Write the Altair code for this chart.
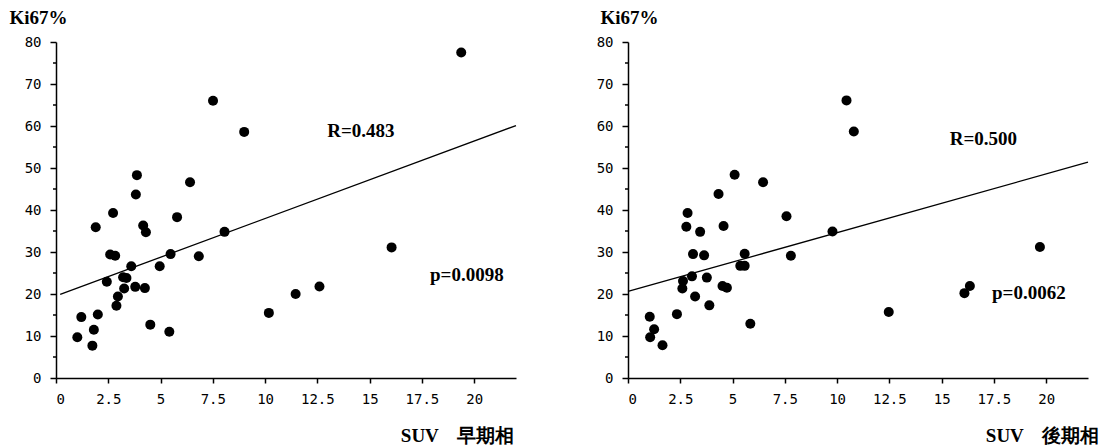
import altair as alt
import pandas as pd

# ---- data ----
early_suv = [1.02, 1.21, 1.81, 1.74, 2.0, 1.90, 2.43, 2.59, 2.83, 2.73, 2.89, 2.96, 3.21,
             3.37, 3.26, 3.60, 3.79, 4.25, 4.17, 4.30, 4.51, 4.96, 5.42, 5.48, 5.79, 6.83,
             8.06, 10.18, 11.46, 3.87, 3.82, 6.41, 7.51, 9.0, 12.6, 16.05, 19.38]
early_ki67 = [9.7, 14.5, 11.5, 7.7, 15.1, 35.9, 22.9, 29.4, 29.1, 39.3, 17.2, 19.4, 24.0,
              23.8, 21.3, 26.6, 21.7, 21.4, 36.3, 34.7, 12.7, 26.6, 11.0, 29.5, 38.3, 29.0,
              34.8, 15.5, 20.0, 48.3, 43.7, 46.6, 66.0, 58.6, 21.8, 31.1, 77.5]

late_suv = [1.04, 1.25, 1.06, 1.65, 2.34, 2.60, 2.63, 3.06, 3.21, 3.11, 3.64, 3.77, 3.89,
            2.79, 2.85, 3.45, 4.57, 4.52, 4.73, 5.37, 5.58, 5.58, 5.85, 7.58, 7.79, 9.78,
            4.33, 5.10, 6.46, 10.45, 10.80, 12.47, 16.09, 16.35, 19.70]
late_ki67 = [14.6, 11.6, 9.7, 7.8, 15.2, 21.3, 23.1, 24.2, 19.4, 29.5, 29.2, 23.9, 17.3,
             36.0, 39.3, 34.8, 36.2, 21.9, 21.5, 26.7, 26.7, 29.6, 12.9, 38.5, 29.1, 34.9,
             43.8, 48.4, 46.6, 66.1, 58.7, 15.7, 20.2, 21.9, 31.2]

early_fit_x = [0.2, 22.0]
early_fit_y = [19.9, 60.1]
late_fit_x = [0.0, 22.0]
late_fit_y = [20.6, 51.4]

early_notes = ["R=0.483", "p=0.0098"]
early_note_x = [14.58, 19.65]
early_note_y = [58.8, 24.6]
late_notes = ["R=0.500", "p=0.0062"]
late_note_x = [17.0, 19.17]
late_note_y = [56.9, 20.2]

x_ticks = [0, 2.5, 5, 7.5, 10, 12.5, 15, 17.5, 20]
y_ticks = [0, 10, 20, 30, 40, 50, 60, 70, 80]
y_minor_ticks = [5, 15, 25, 35, 45, 55, 65, 75]

y_title = "Ki67%"
x_title_early = "SUV\u3000早期相"
x_title_late = "SUV\u3000後期相"

LABEL_FONT = "DejaVu Sans Mono"
TITLE_FONT = "Liberation Serif"


def panel(suv, ki, fx, fy, notes, nx, ny, xtitle, ytitle_x, xtitle_x):
    pts = pd.DataFrame({"suv": suv, "ki67": ki})
    fit = pd.DataFrame({"suv": fx, "ki67": fy})
    ann = pd.DataFrame({"t": notes, "suv": nx, "ki67": ny})
    minor = pd.DataFrame({"ki67": y_minor_ticks})
    xs = alt.Scale(domain=[0, 22], nice=False, zero=False)
    ys = alt.Scale(domain=[0, 80], nice=False)

    x_axis = alt.Axis(values=x_ticks, format=".1~f", title=xtitle,
                      titleX=xtitle_x, titleY=63, titleAlign="right")
    y_axis = alt.Axis(values=y_ticks, title=y_title, tickSize=6,
                      titleX=ytitle_x, titleY=-19, titleAlign="left", titleAngle=0)

    X = alt.X("suv:Q", scale=xs, axis=x_axis)
    Y = alt.Y("ki67:Q", scale=ys, axis=y_axis)

    points = alt.Chart(pts).mark_circle(size=100, color="black", opacity=1).encode(x=X, y=Y)
    line = alt.Chart(fit).mark_line(color="black", strokeWidth=1.3).encode(x=X, y=Y)
    minor_ticks = alt.Chart(minor).mark_rule(color="black", strokeWidth=1.5).encode(
        x=alt.value(-3), x2=alt.value(0), y=Y,
    )
    text = alt.Chart(ann).mark_text(
        font=TITLE_FONT, fontSize=19, fontWeight="bold", color="black",
        align="center", baseline="middle",
    ).encode(x=X, y=Y, text="t:N")
    return alt.layer(points, line, minor_ticks, text).properties(width=460, height=336)


left = panel(early_suv, early_ki67, early_fit_x, early_fit_y, early_notes,
             early_note_x, early_note_y, x_title_early, -47, 458)
right = panel(late_suv, late_ki67, late_fit_x, late_fit_y, late_notes,
              late_note_x, late_note_y, x_title_late, -28, 471)

chart = alt.hconcat(left, right, spacing=77).properties(
    padding={"left": 9, "top": 8, "right": 0, "bottom": 0},
    background="white",
).configure_view(stroke=None).configure_axis(
    grid=False,
    labelFont=LABEL_FONT, labelFontSize=14, labelColor="black",
    tickColor="black", tickWidth=1.5, labelPadding=9, tickSize=5,
    domainColor="black", domainWidth=1.5,
    titleFont=TITLE_FONT, titleFontSize=19, titleFontWeight="bold", titleColor="black",
    titleBaseline="alphabetic",
)

chart.save("out.html", embed_options={"renderer": "svg", "actions": False})
